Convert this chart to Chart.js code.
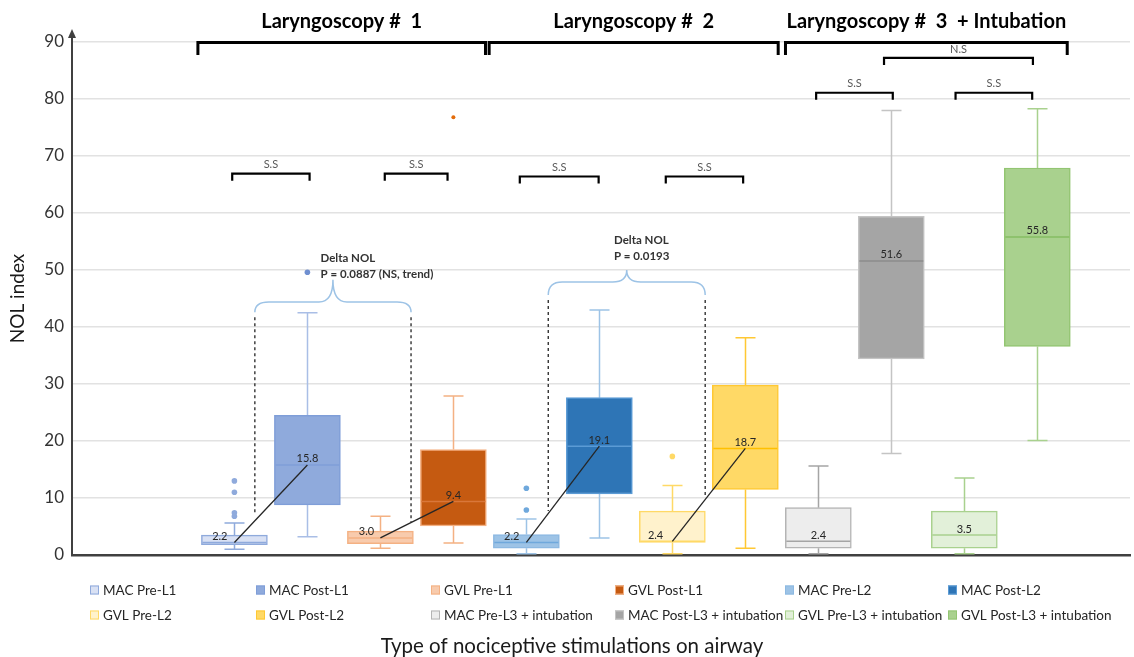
<!DOCTYPE html>
<html>
<head>
<meta charset="utf-8">
<script src="https://cdn.jsdelivr.net/npm/chart.js@4.4.1/dist/chart.umd.min.js"></script>
<style>
  html, body { margin: 0; padding: 0; background: #ffffff; }
  #wrap { width: 1134px; height: 657px; position: relative; }
</style>
</head>
<body>
<div id="wrap"><canvas id="nolChart" width="1134" height="657"></canvas></div>
<script>
// ---- Data: NOL index distribution per stimulation (box-and-whisker summary) ----
const groups = [
  'MAC Pre-L1', 'MAC Post-L1', 'GVL Pre-L1', 'GVL Post-L1',
  'MAC Pre-L2', 'MAC Post-L2', 'GVL Pre-L2', 'GVL Post-L2',
  'MAC Pre-L3 + intubation', 'MAC Post-L3 + intubation',
  'GVL Pre-L3 + intubation', 'GVL Post-L3 + intubation'
];
const positions   = [1, 2, 3, 4, 5, 6, 7, 8, 9, 10, 11, 12];
const whiskerLow  = [1.0, 3.2, 1.2, 2.1, 0.2, 3.0, 0.2, 1.2, 0.2, 17.8, 0.2, 20.1];
const q1          = [1.8, 8.8, 2.0, 5.1, 1.2, 10.7, 2.2, 11.5, 1.2, 34.4, 1.2, 36.6];
const median      = [2.2, 15.8, 3.0, 9.4, 2.2, 19.1, 2.4, 18.7, 2.4, 51.6, 3.5, 55.8];
const q3          = [3.5, 24.5, 4.2, 18.5, 3.6, 27.6, 7.7, 29.8, 8.3, 59.4, 7.7, 67.9];
const whiskerHigh = [5.6, 42.5, 6.8, 27.9, 6.3, 43.0, 12.2, 38.1, 15.6, 78.0, 13.5, 78.3];
const outliers    = [[6.8, 7.4, 11.0, 13.0], [49.6], [], [76.8], [7.9, 11.7], [], [17.3], [], [], [], [], []];
const yTicks      = [0, 10, 20, 30, 40, 50, 60, 70, 80, 90];

// Laryngoscopy phases and statistical comparisons
const phaseTitles = ['Laryngoscopy #  1', 'Laryngoscopy #  2', 'Laryngoscopy #  3  + Intubation'];
const sigLabels   = ['S.S', 'S.S', 'S.S', 'S.S', 'S.S', 'S.S', 'N.S'];
const deltaPairs  = [[0, 1], [2, 3], [4, 5], [6, 7]];
const deltaNotes  = [['Delta NOL', 'P = 0.0887 (NS, trend)'], ['Delta NOL', 'P = 0.0193']];

// ---- Styling ----
const fillColors    = ['#D9E1F4', '#8FAADC', '#F8CBAD', '#C55A11', '#9DC3E6', '#2E75B6',
                       '#FFF2CC', '#FFD966', '#EDEDED', '#A5A5A5', '#E2F0D9', '#A9D18E'];
const borderColors  = ['#8FAADC', '#7F9ED8', '#F4B183', '#F4B183', '#8DB9E2', '#5B9BD5',
                       '#FFD966', '#FFC833', '#B4B4B4', '#C4C4C4', '#A9D18E', '#93C572'];
const whiskerColors = ['#8FAADC', '#A9BEE6', '#F4B183', '#F4B183', '#9DC3E6', '#9DC3E6',
                       '#FFD966', '#FFC833', '#A5A5A5', '#C4C4C4', '#A9D18E', '#A9D18E'];
const medianColors  = ['#8FAADC', '#7F9ED8', '#F4B183', '#D9773A', '#6FA8DC', '#5B9BD5',
                       '#FFD966', '#FFC000', '#A5A5A5', '#8C8C8C', '#A9D18E', '#86BC62'];
const outlierColors = ['#8FAADC', '#6F8FD0', '#F4B183', '#E36C0A', '#6FA8DC', '#2E75B6',
                       '#FFD966', '#FFC000', '#A5A5A5', '#A5A5A5', '#A9D18E', '#A9D18E'];

const layoutCfg = {
  chartLeft: 72, chartTop: 42, chartBottom: 555,
  xMin: -1.225, xMax: 13.27,
  boxWidthPx: 66, capWidthPx: 20,
  labelShift: [-0.2, 0, -0.19, 0, -0.2, 0, -0.23, 0, 0, 0, 0, 0],
  phaseSpans: [[0.5, 4.44], [4.49, 8.45], [8.55, 12.41]],
  phaseBracket: [90, 87.7],
  sigFrom:  [0.97, 3.06, 4.91, 6.91, 8.97, 10.88, 9.90],
  sigTo:    [2.03, 3.92, 5.99, 7.97, 10.02, 11.93, 11.94],
  sigLevel: [66.9, 66.9, 66.4, 66.4, 81.1, 81.1, 87.2],
  braces: [
    { x0: 1.28, x1: 3.42, yEnd: 42.6, yMid: 44.4, yTip: 48.3, dashLow: [7.5, 5.8] },
    { x0: 5.30, x1: 7.45, yEnd: 45.6, yMid: 47.9, yTip: 50.0, dashLow: [7.7, 10.4] }
  ],
  noteX: [2.18, 6.2],
  noteY: [[52.1, 49.3], [55.2, 52.4]],
  legendCols: [90, 256, 431, 615, 785, 948],
  legendRows: [590, 615],
  xTitle: { text: 'Type of nociceptive stimulations on airway', x: 572, y: 646 }
};

const FONT = 'Lato, "Open Sans", sans-serif';
Chart.defaults.font.family = FONT;

// Whiskers, medians, median labels (drawn through the chart scales)
const boxParts = {
  id: 'boxParts',
  beforeDatasetsDraw(chart) {
    const { ctx, scales: { x, y } } = chart;
    const half = layoutCfg.capWidthPx / 2;
    ctx.save();
    ctx.lineWidth = 1.5;
    positions.forEach((p, i) => {
      const cx = Math.round(x.getPixelForValue(p)) + 0.5;
      const yHi = y.getPixelForValue(whiskerHigh[i]);
      const yLo = y.getPixelForValue(whiskerLow[i]);
      ctx.strokeStyle = whiskerColors[i];
      ctx.beginPath();
      ctx.moveTo(cx, y.getPixelForValue(q3[i])); ctx.lineTo(cx, yHi);
      ctx.moveTo(cx - half, yHi); ctx.lineTo(cx + half, yHi);
      ctx.moveTo(cx, y.getPixelForValue(q1[i])); ctx.lineTo(cx, yLo);
      ctx.moveTo(cx - half, yLo); ctx.lineTo(cx + half, yLo);
      ctx.stroke();
    });
    ctx.restore();
  },
  afterDatasetsDraw(chart) {
    const { ctx, scales: { x, y } } = chart;
    const halfBox = layoutCfg.boxWidthPx / 2;
    ctx.save();
    positions.forEach((p, i) => {
      const cx = x.getPixelForValue(p);
      const ym = y.getPixelForValue(median[i]);
      ctx.strokeStyle = medianColors[i];
      ctx.lineWidth = 1.5;
      ctx.beginPath();
      ctx.moveTo(cx - halfBox + 1, ym); ctx.lineTo(cx + halfBox - 1, ym);
      ctx.stroke();
    });
    ctx.font = '11px ' + FONT;
    ctx.fillStyle = '#262626';
    ctx.textAlign = 'center';
    ctx.textBaseline = 'middle';
    positions.forEach((p, i) => {
      const lx = x.getPixelForValue(p + layoutCfg.labelShift[i]);
      const ly = y.getPixelForValue(median[i]) - 6;
      ctx.fillText(median[i].toFixed(1), lx, ly);
    });
    ctx.restore();
  }
};

// Phase headers, comparison brackets, delta annotations, axis arrow, legend, axis title
const annotations = {
  id: 'annotations',
  afterDraw(chart) {
    const { ctx, scales: { x, y } } = chart;
    const px = v => x.getPixelForValue(v);
    const py = v => y.getPixelForValue(v);
    ctx.save();

    // y axis arrow above the plot
    const ax = chart.chartArea.left;
    ctx.strokeStyle = '#404040';
    ctx.fillStyle = '#404040';
    ctx.lineWidth = 2;
    ctx.beginPath();
    ctx.moveTo(ax, chart.chartArea.top); ctx.lineTo(ax, 36);
    ctx.stroke();
    ctx.beginPath();
    ctx.moveTo(ax, 29); ctx.lineTo(ax - 4, 38); ctx.lineTo(ax + 4, 38); ctx.closePath();
    ctx.fill();

    // phase brackets and titles (titles centred over their bracket)
    ctx.strokeStyle = '#000000';
    ctx.lineWidth = 3;
    ctx.lineJoin = 'miter';
    ctx.fillStyle = '#000000';
    ctx.font = 'bold 20px ' + FONT;
    ctx.textAlign = 'center';
    ctx.textBaseline = 'middle';
    layoutCfg.phaseSpans.forEach(([a, b], k) => {
      const top = py(layoutCfg.phaseBracket[0]) + 0.5;
      const leg = py(layoutCfg.phaseBracket[1]);
      ctx.beginPath();
      ctx.moveTo(px(a), leg); ctx.lineTo(px(a), top); ctx.lineTo(px(b), top); ctx.lineTo(px(b), leg);
      ctx.stroke();
      ctx.fillText(phaseTitles[k], (px(a) + px(b)) / 2, 22);
    });

    // significance brackets
    ctx.lineWidth = 2.2;
    ctx.font = '11px ' + FONT;
    sigLabels.forEach((lab, i) => {
      const a = px(layoutCfg.sigFrom[i]), b = px(layoutCfg.sigTo[i]);
      const top = py(layoutCfg.sigLevel[i]);
      ctx.strokeStyle = '#000000';
      ctx.beginPath();
      ctx.moveTo(a, top + 7); ctx.lineTo(a, top); ctx.lineTo(b, top); ctx.lineTo(b, top + 7);
      ctx.stroke();
      ctx.fillStyle = '#595959';
      ctx.fillText(lab, (a + b) / 2, top - 9);
    });

    // delta lines between paired medians
    ctx.strokeStyle = '#262626';
    ctx.lineWidth = 1.3;
    deltaPairs.forEach(([i, j]) => {
      ctx.beginPath();
      ctx.moveTo(px(positions[i]), py(median[i]));
      ctx.lineTo(px(positions[j]), py(median[j]));
      ctx.stroke();
    });

    // curly braces with dashed guides
    layoutCfg.braces.forEach(br => {
      const x0 = px(br.x0), x1 = px(br.x1), xc = (x0 + x1) / 2;
      const yE = py(br.yEnd), yM = py(br.yMid), yT = py(br.yTip);
      const r = 14;
      ctx.strokeStyle = '#9DC3E6';
      ctx.lineWidth = 1.5;
      ctx.setLineDash([]);
      ctx.beginPath();
      ctx.moveTo(x0, yE);
      ctx.quadraticCurveTo(x0, yM, x0 + r, yM);
      ctx.lineTo(xc - r, yM);
      ctx.quadraticCurveTo(xc, yM, xc, yT);
      ctx.quadraticCurveTo(xc, yM, xc + r, yM);
      ctx.lineTo(x1 - r, yM);
      ctx.quadraticCurveTo(x1, yM, x1, yE);
      ctx.stroke();
      ctx.strokeStyle = '#333333';
      ctx.lineWidth = 1.4;
      ctx.setLineDash([3, 3]);
      ctx.beginPath();
      ctx.moveTo(x0, yE + 5); ctx.lineTo(x0, py(br.dashLow[0]));
      ctx.moveTo(x1, yE + 5); ctx.lineTo(x1, py(br.dashLow[1]));
      ctx.stroke();
      ctx.setLineDash([]);
    });

    // delta NOL notes
    ctx.fillStyle = '#333333';
    ctx.font = 'bold 11.5px ' + FONT;
    ctx.textAlign = 'left';
    deltaNotes.forEach((lines, k) => {
      lines.forEach((t, m) => ctx.fillText(t, px(layoutCfg.noteX[k]), py(layoutCfg.noteY[k][m])));
    });

    // legend grid
    ctx.font = '13.5px ' + FONT;
    ctx.textBaseline = 'middle';
    groups.forEach((g, i) => {
      const col = i % 6, row = Math.floor(i / 6);
      const lx = layoutCfg.legendCols[col], ly = layoutCfg.legendRows[row];
      ctx.fillStyle = fillColors[i];
      ctx.fillRect(lx, ly - 4.5, 9, 9);
      ctx.strokeStyle = borderColors[i];
      ctx.lineWidth = 1;
      ctx.strokeRect(lx + 0.5, ly - 4, 8, 8);
      ctx.fillStyle = '#262626';
      ctx.fillText(g, lx + 13, ly + 1);
    });

    // x axis title
    ctx.font = '20.5px ' + FONT;
    ctx.textAlign = 'center';
    ctx.fillStyle = '#1a1a1a';
    ctx.fillText(layoutCfg.xTitle.text, layoutCfg.xTitle.x, layoutCfg.xTitle.y);

    ctx.restore();
  }
};

const boxDatasets = groups.map((g, i) => ({
  type: 'bar',
  label: g,
  data: [{ x: positions[i], y: [q1[i], q3[i]] }],
  backgroundColor: fillColors[i],
  borderColor: borderColors[i],
  borderWidth: 1.5,
  borderSkipped: false,
  barThickness: layoutCfg.boxWidthPx,
  grouped: false,
  order: 3
}));

const outlierDatasets = groups.map((g, i) => ({
  type: 'scatter',
  label: g + ' outliers',
  data: outliers[i].map(v => ({ x: positions[i], y: v })),
  backgroundColor: outlierColors[i],
  borderWidth: 0,
  pointRadius: i === 3 ? 2 : 2.8,
  order: 1
})).filter(d => d.data.length);

new Chart(document.getElementById('nolChart'), {
  type: 'bar',
  data: { datasets: [...boxDatasets, ...outlierDatasets] },
  options: {
    responsive: false,
    animation: false,
    layout: { padding: { top: layoutCfg.chartTop, bottom: 657 - layoutCfg.chartBottom, left: 0, right: 0 } },
    plugins: { legend: { display: false }, tooltip: { enabled: false } },
    scales: {
      x: {
        type: 'linear',
        offset: false,
        min: layoutCfg.xMin,
        max: layoutCfg.xMax,
        grid: { display: false, offset: false },
        ticks: { display: false },
        border: { display: true, color: '#404040', width: 2.5 },
        afterFit(scale) { scale.height = 0; }
      },
      y: {
        min: 0,
        max: 90,
        afterBuildTicks(scale) { scale.ticks = yTicks.map(v => ({ value: v })); },
        grid: { color: '#E2E2E2', lineWidth: 1.5, drawTicks: false },
        border: { display: true, color: '#404040', width: 2 },
        ticks: { color: '#333333', font: { size: 17 }, padding: 8 },
        title: { display: true, text: 'NOL index', color: '#1a1a1a', font: { size: 19 }, padding: { top: 6, bottom: 0 } },
        afterFit(scale) { scale.width = layoutCfg.chartLeft; }
      }
    }
  },
  plugins: [boxParts, annotations]
});
</script>
</body>
</html>
